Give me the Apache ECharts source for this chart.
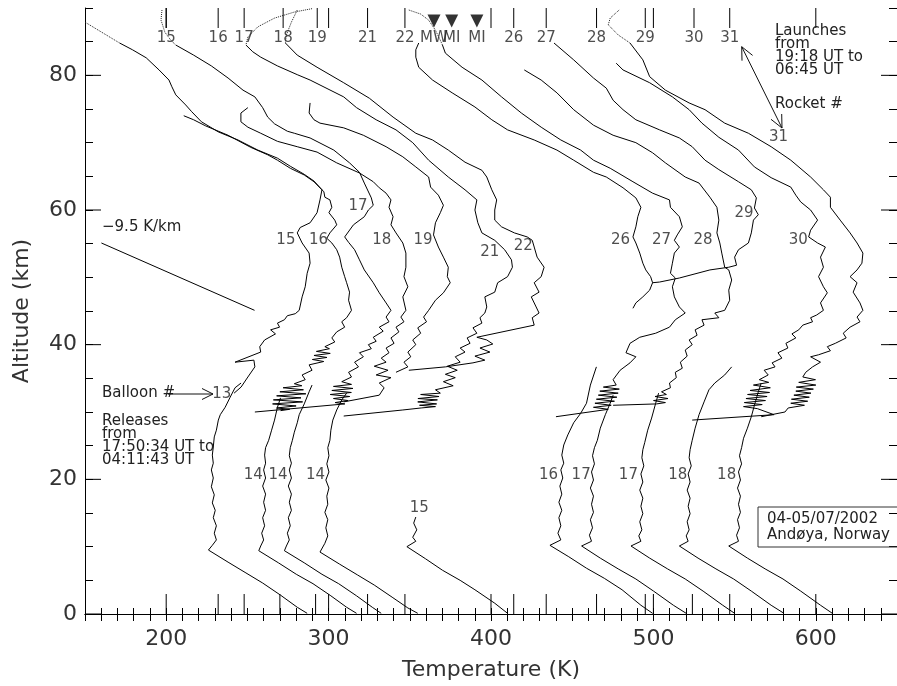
<!DOCTYPE html>
<html><head><meta charset="utf-8">
<script src="https://cdn.jsdelivr.net/npm/echarts@6/dist/echarts.min.js"></script>
<style>html,body{margin:0;padding:0;background:#fff}#c{width:897px;height:686px}</style>
</head><body><div id="c"></div>
<script>
// ---- axis / tick data ----
const xMajor = [200,300,400,500,600];
const yMajor = [0,20,40,60,80];
const rocketTicks = [200,232,248,272,293,324,347,414,434,465,495,525,547];
const rocketTickLabels = ['15','16','17','18','19','21','22','26','27','28','29','30','31'];
const balloonTicks = [232,248,270,292,324,347,414,434,465,495,524,547];
const instrumentT = [364.9,375.8,391.3];
const instrumentLabels = ['MW','MI','MI'];

// ---- rocket profiles [T(K), altitude(km)] ----
const r15 = [[210.8,74.0],[216.9,73.4],[224.2,72.5],[238.1,71.1],[252.1,69.3],[262.5,68.2],[268.5,67.4],[276.4,66.2],[285.0,65.2],[291.0,64.2],[295.9,63.0],[294.7,61.5],[292.9,59.6],[288.6,58.1],[282.5,57.4],[280.7,56.6],[283.7,55.1],[288.0,53.6],[288.6,52.1],[286.8,50.6],[285.6,48.6],[283.7,47.1],[281.9,45.1],[279.5,44.6],[274.6,44.3],[272.8,43.7],[268.5,43.2],[269.8,42.6],[264.3,42.2],[267.3,41.6],[260.6,40.7],[257.6,39.7],[258.2,38.9],[242.4,37.4],[254.0,37.7],[254.6,36.7],[250.3,35.2],[246.1,33.7],[241.8,32.8]];
const r16Dotted = [[150.0,87.9],[160.3,86.4],[171.3,84.8]];
const r16 = [[171.3,84.8],[179.2,83.8],[187.7,82.6],[195.6,80.8],[201.7,79.3],[203.5,78.3],[205.9,77.1],[212.0,75.6],[215.7,74.6],[221.7,73.1],[232.1,71.6],[244.2,70.4],[256.4,68.9],[268.5,67.7],[276.4,66.5],[285.0,65.3],[291.0,64.3],[297.1,62.7],[297.7,61.9],[300.8,61.5],[302.0,60.4],[300.2,59.6],[303.8,58.5],[305.0,57.8],[300.8,56.6],[298.9,55.8],[302.0,55.1],[305.0,54.1],[306.8,53.0],[308.1,51.5],[309.9,50.1],[311.1,49.2],[312.9,47.8],[312.3,46.6],[314.1,45.1],[311.1,44.0],[308.1,43.4],[309.9,42.6],[305.0,41.9],[302.0,41.0],[303.8,40.4],[297.7,39.7],[300.5,39.4],[292.5,39.0],[301.0,38.7],[291.0,38.4],[299.0,38.1],[290.0,37.8],[297.0,37.5],[288.0,37.0],[289.8,36.2],[283.7,35.5],[285.6,34.8],[278.9,34.2],[283.5,33.9],[272.0,33.6],[284.5,33.3],[270.0,33.0],[286.0,32.7],[268.0,32.4],[283.0,32.1],[266.0,31.8],[284.0,31.5],[265.5,31.2],[280.0,30.9],[268.0,30.6],[276.0,30.4],[270.4,30.2]];
const r17Dotted = [[197.4,89.7],[196.8,88.2],[199.2,86.4],[202.9,85.2],[205.9,84.5]];
const r17 = [[205.9,84.5],[216.9,83.0],[227.8,81.4],[238.1,79.6],[247.3,77.8],[254.6,76.8],[259.4,75.2],[262.5,73.8],[266.7,72.8],[274.6,71.7],[278.9,71.4],[288.6,70.7],[303.2,68.9],[312.9,67.0],[319.0,65.6],[322.0,64.0],[326.3,61.8],[327.5,60.7],[324.5,60.0],[322.0,59.0],[315.3,57.8],[309.9,56.0],[312.3,55.2],[316.0,54.1],[319.0,52.6],[322.0,51.1],[327.5,49.2],[331.2,47.7],[335.4,46.2],[338.4,45.1],[335.4,44.1],[337.2,43.4],[331.2,42.6],[333.6,42.0],[327.5,41.1],[329.3,40.5],[324.5,40.0],[326.3,39.4],[319.0,38.8],[321.4,38.2],[316.0,37.4],[318.4,36.7],[312.3,35.9],[314.1,35.2],[308.1,34.5],[314.1,34.1],[303.0,33.8],[315.0,33.5],[302.0,33.2],[314.0,32.9],[301.0,32.6],[313.0,32.3],[303.0,32.0],[312.0,31.7],[304.0,31.4],[310.0,31.2],[254.6,30.0]];
const r18 = [[250.3,75.2],[246.0,74.4],[246.0,73.1],[250.3,72.3],[258.2,71.4],[268.5,70.2],[280.7,69.4],[292.9,68.6],[305.0,67.0],[319.0,65.5],[327.5,64.2],[331.2,63.3],[335.4,62.5],[338.4,61.5],[337.2,60.4],[339.7,59.0],[338.4,57.8],[341.5,56.6],[345.7,55.1],[347.6,53.6],[347.6,51.5],[346.4,50.1],[348.8,48.6],[345.7,47.1],[347.6,45.1],[344.5,44.1],[346.4,43.4],[341.5,42.6],[343.3,41.9],[338.4,41.0],[340.3,40.2],[335.4,39.5],[337.2,38.8],[332.4,38.0],[335.4,37.4],[328.1,36.8],[336.6,36.2],[329.3,35.5],[338.4,35.1],[331.2,34.3],[334.2,33.6],[331.2,32.5],[309.3,31.5]];
const r19 = [[288.6,75.9],[288.0,74.4],[291.0,73.4],[294.7,72.9],[309.3,72.2],[321.4,71.1],[335.4,69.4],[345.7,67.9],[353.7,66.4],[361.6,64.9],[362.8,63.4],[367.6,62.2],[370.7,60.7],[368.8,59.6],[365.8,58.1],[364.6,56.3],[367.6,54.5],[370.7,53.0],[373.7,51.5],[373.1,50.1],[374.9,49.2],[370.7,47.7],[365.8,46.6],[361.6,45.1],[358.5,44.1],[360.3,43.4],[354.9,42.5],[356.7,41.7],[351.8,40.7],[353.7,40.0],[348.8,38.9],[350.6,38.2],[346.4,37.4],[348.8,36.7],[341.5,35.9]];
const r21Dotted = [[289.8,89.9],[278.9,89.4],[266.7,88.5],[256.4,87.2],[250.3,85.7],[249.1,84.5]];
const r21 = [[249.1,84.5],[253.3,83.5],[258.2,82.7],[268.5,81.4],[280.7,80.1],[288.6,79.3],[309.3,76.8],[317.2,75.2],[329.3,73.4],[341.5,71.9],[351.8,70.0],[361.6,67.4],[373.7,64.9],[384.0,63.0],[391.3,61.5],[390.1,60.0],[391.9,58.1],[394.4,56.6],[402.3,55.5],[408.4,54.1],[412.6,52.6],[413.2,51.5],[410.2,50.1],[404.1,49.2],[402.3,47.8],[396.2,47.1],[397.4,45.6],[396.2,44.7],[393.2,44.0],[394.4,43.2],[388.9,42.5],[391.3,41.7],[385.3,41.0],[387.1,40.2],[381.0,39.5],[384.0,38.9],[378.0,38.2],[381.0,37.4],[373.1,36.8],[379.2,36.2],[371.9,35.6],[378.0,35.1],[370.7,34.5],[376.7,33.9],[365.8,33.3],[368.8,32.8],[356.7,32.6],[368.0,32.3],[355.0,32.0],[367.0,31.8],[354.9,31.5],[366.5,31.2],[356.0,31.0],[365.8,30.8],[357.0,30.6],[345.7,30.3],[309.3,29.4]];
const r22Dotted = [[280.7,89.7],[277.1,87.9],[274.0,86.0],[273.4,84.8]];
const r22 = [[273.4,84.8],[280.7,83.0],[292.9,81.2],[309.3,78.9],[325.1,76.6],[339.7,73.8],[353.7,71.4],[364.0,70.4],[373.7,68.9],[384.0,67.1],[394.4,65.9],[397.4,64.9],[400.5,63.0],[403.5,61.5],[402.3,60.0],[402.3,58.5],[406.5,57.5],[414.4,56.6],[422.3,56.0],[425.4,55.5],[426.6,54.5],[428.4,53.0],[432.7,51.5],[430.9,50.1],[426.6,49.2],[429.6,47.8],[424.8,47.1],[427.8,45.6],[429.6,44.7],[425.4,44.0],[426.6,42.9],[391.3,41.1],[397.4,40.7],[401.1,40.1],[393.2,39.5],[399.3,38.9],[390.1,38.3],[396.2,37.7],[388.9,37.3],[371.9,36.7],[349.4,36.2]];
const r26 = [[355.5,84.8],[353.7,83.8],[353.7,82.7],[355.5,81.2],[364.0,79.3],[376.1,77.4],[390.1,75.3],[400.5,73.4],[410.2,71.9],[426.6,70.4],[440.6,68.9],[450.9,67.4],[463.1,65.6],[471.0,64.9],[481.3,63.3],[489.2,61.8],[492.3,60.4],[490.4,59.0],[489.2,57.5],[487.4,56.0],[489.2,55.1],[491.6,53.6],[493.5,52.1],[495.3,51.1],[498.3,50.1],[499.5,49.2],[497.7,48.1],[493.5,47.1],[489.2,46.2],[487.4,45.4]];
const r27Dotted = [[349.4,89.7],[356.7,89.1],[361.6,88.2],[365.8,86.7],[368.8,85.2],[370.1,84.5]];
const r27 = [[370.1,84.5],[371.9,83.3],[382.2,81.2],[394.4,79.3],[406.5,76.8],[418.7,74.4],[430.9,72.3],[443.0,70.4],[455.2,68.9],[463.1,67.4],[473.4,66.2],[487.4,64.2],[499.5,62.5],[509.9,61.5],[510.5,60.4],[516.0,59.0],[517.8,57.5],[514.7,56.3],[512.9,55.5],[516.0,54.5],[512.9,53.6],[511.7,52.1],[510.5,50.6],[513.5,49.9],[511.7,48.6],[512.9,47.1],[516.0,45.6],[519.6,44.7],[513.5,43.7],[509.9,42.6],[501.4,41.7],[491.6,41.1],[485.6,40.2],[483.1,38.8],[489.2,38.2],[485.6,37.3],[479.5,36.2],[475.2,34.8],[477.1,34.0],[469.2,33.7],[479.0,33.4],[467.0,33.1],[478.3,32.8],[466.1,32.5],[477.5,32.2],[464.9,31.9],[476.0,31.6],[464.0,31.3],[474.0,31.0],[463.1,30.7],[472.2,30.4],[440.0,29.3]];
const r28 = [[420.5,80.8],[430.9,79.3],[440.6,77.4],[450.9,74.9],[463.1,72.6],[475.2,71.1],[489.2,70.0],[499.5,68.5],[507.4,67.0],[519.6,64.9],[528.1,64.0],[534.8,61.9],[539.1,60.4],[540.3,58.5],[539.1,56.6],[540.9,55.1],[542.1,53.6],[543.9,51.5],[546.4,51.1],[548.2,49.6],[546.4,48.1],[547.0,46.6],[543.9,45.1],[537.8,44.7],[540.3,44.0],[529.9,43.7],[531.2,42.9],[525.7,42.2],[526.9,41.4],[522.0,40.7],[523.9,40.0],[519.6,39.2],[520.8,38.3],[516.6,37.4],[517.8,36.5],[513.5,35.9],[514.1,35.1],[509.9,34.3],[510.5,33.6],[505.0,33.0],[508.0,32.6],[501.0,32.3],[509.0,32.0],[500.1,31.7],[507.4,31.4],[502.0,31.2],[475.2,31.0]];
const r29 = [[438.8,84.8],[450.9,82.3],[463.1,79.6],[471.0,78.1],[475.2,76.3],[481.3,74.9],[489.2,73.4],[503.8,71.9],[516.0,70.7],[523.9,69.4],[531.8,67.4],[540.3,66.0],[552.4,64.2],[560.3,63.0],[563.4,61.8],[562.2,60.3],[564.6,59.3],[561.6,58.5],[560.3,56.6],[558.5,55.1],[552.4,54.1],[550.0,53.0],[551.2,51.8],[546.4,51.5],[534.8,51.1],[516.0,49.9],[503.8,49.3],[499.5,49.2]];
const r30 = [[477.1,81.8],[481.3,80.8],[497.7,78.9],[511.7,76.8],[522.0,74.9],[529.9,72.9],[540.3,70.8],[552.4,68.9],[562.2,66.4],[572.5,64.8],[584.6,63.4],[587.7,62.2],[590.7,61.2],[596.8,60.0],[601.1,58.5],[596.8,57.0],[595.6,56.0],[601.1,55.1],[605.9,54.5],[602.9,53.0],[604.7,51.5],[601.7,50.1],[604.7,48.6],[607.1,47.7],[602.9,46.2],[604.7,45.1],[600.5,44.4],[596.8,44.0],[598.0,43.4],[592.0,42.9],[589.5,42.2],[585.3,41.6],[587.7,41.0],[581.6,40.2],[582.8,39.5],[576.7,38.8],[579.1,38.0],[573.1,37.3],[574.9,36.7],[568.2,36.2],[570.7,35.5],[565.2,34.8],[571.0,34.4],[561.6,34.0],[572.0,33.6],[559.5,33.2],[571.5,32.9],[558.0,32.6],[570.0,32.3],[557.0,32.0],[569.0,31.7],[556.0,31.4],[567.0,31.1],[555.5,30.8],[564.0,30.5],[574.3,29.6],[523.9,28.8]];
const r31Dotted = [[478.9,89.7],[473.4,88.5],[472.2,87.5],[478.3,86.0],[485.6,84.8]];
const r31 = [[485.6,84.8],[493.5,82.3],[497.7,79.8],[507.4,77.8],[522.0,75.9],[531.8,74.9],[543.9,72.9],[558.5,71.4],[572.5,69.4],[584.6,67.4],[596.8,64.9],[604.7,63.0],[609.0,61.9],[609.0,60.4],[615.0,58.5],[621.1,56.6],[625.4,55.1],[629.0,53.6],[628.4,52.1],[625.4,51.1],[621.1,50.1],[625.4,49.2],[623.0,47.8],[627.2,46.2],[629.0,45.1],[625.4,44.1],[627.2,43.4],[621.1,42.6],[616.9,41.7],[618.7,41.0],[612.0,40.2],[607.1,39.7],[609.0,39.1],[601.7,38.5],[596.8,38.2],[602.9,37.4],[598.0,36.7],[593.8,35.9],[592.0,35.2],[599.8,34.8],[589.5,34.4],[600.0,34.0],[588.0,33.7],[598.5,33.4],[587.7,33.1],[597.0,32.8],[586.5,32.5],[596.0,32.2],[585.0,31.9],[595.0,31.6],[584.6,31.3],[593.0,31.0],[583.0,30.6],[581.0,30.0],[566.4,29.3]];

// ---- balloon profiles ----
const b13 = [[246.1,34.3],[242.4,33.6],[239.4,32.2],[236.3,30.7],[233.3,29.6],[232.1,28.8],[230.9,27.3],[229.6,26.3],[229.0,24.8],[228.4,23.6],[229.0,22.4],[227.8,21.4],[229.0,20.2],[227.8,18.9],[229.6,17.7],[228.4,16.5],[230.2,15.4],[229.0,14.3],[230.9,13.1],[229.6,12.0],[230.9,11.0],[228.4,10.2],[226.0,9.5],[238.1,7.7],[249.1,6.1],[259.4,4.6],[270.4,2.8],[280.7,1.0],[286.8,0.1]];
const b14a = [[270.4,32.1],[268.5,30.7],[266.7,28.8],[264.9,27.3],[263.1,25.8],[261.2,24.7],[260.6,23.6],[261.2,22.4],[260.0,21.4],[261.2,20.2],[259.4,19.0],[261.2,17.8],[260.0,16.6],[261.2,15.4],[259.4,14.3],[260.6,13.1],[258.8,12.0],[260.0,11.0],[258.2,10.1],[257.0,9.4],[269.1,7.6],[280.1,5.9],[290.4,4.5],[301.4,2.7],[311.1,1.0],[317.2,0.1]];
const b14b = [[289.8,34.0],[288.0,33.0],[285.0,31.2],[281.9,29.6],[280.7,28.4],[278.9,27.0],[277.7,25.8],[276.4,24.7],[275.8,23.5],[277.1,22.4],[275.8,21.4],[277.1,20.2],[275.2,19.0],[277.1,17.8],[275.8,16.6],[277.1,15.4],[275.2,14.3],[276.4,13.1],[274.6,12.0],[275.8,11.0],[274.0,10.1],[272.8,9.4],[285.0,7.6],[295.9,5.9],[306.2,4.5],[317.2,2.7],[326.9,1.0],[332.4,0.1]];
const b14c = [[311.1,32.8],[308.1,31.8],[305.0,30.3],[302.6,28.8],[301.4,27.3],[300.8,25.8],[299.5,24.7],[300.2,23.5],[298.9,22.3],[300.2,21.1],[298.3,19.9],[300.2,18.7],[298.9,17.5],[299.5,16.3],[297.7,15.1],[299.5,14.0],[298.3,12.8],[299.5,11.6],[297.7,10.5],[294.7,9.2],[306.8,7.4],[317.8,5.8],[328.1,4.3],[339.1,2.5],[348.8,0.9],[354.9,0.1]];
const b15 = [[353.7,14.4],[352.4,13.5],[354.3,12.5],[351.8,11.4],[353.7,10.8],[348.2,10.0],[359.7,8.2],[370.1,6.5],[381.0,5.0],[390.1,3.6],[402.3,1.6],[410.2,0.1]];
const b16 = [[464.9,36.7],[461.2,34.0],[458.8,31.3],[455.2,29.8],[450.9,28.4],[447.3,26.6],[444.8,25.1],[443.6,23.6],[444.8,22.4],[443.0,21.4],[444.2,20.2],[442.4,19.0],[443.6,17.8],[441.8,16.6],[443.6,15.4],[441.8,14.3],[443.0,13.1],[441.2,12.0],[443.0,11.0],[436.3,10.2],[447.9,8.5],[458.8,6.8],[469.8,5.3],[480.7,3.6],[492.3,1.3],[499.5,0.1]];
const b17a = [[475.2,32.5],[473.4,31.3],[470.4,29.6],[467.3,27.6],[465.5,25.8],[463.7,24.7],[462.5,23.5],[463.7,22.3],[461.9,21.1],[463.1,19.9],[461.2,18.7],[463.1,17.5],[461.9,16.3],[463.1,15.1],[461.2,14.0],[462.5,12.8],[460.6,11.7],[461.9,10.8],[455.8,10.1],[467.3,8.3],[478.3,6.7],[489.2,5.2],[500.1,3.4],[512.3,1.3],[520.2,0.1]];
const b17b = [[503.2,32.8],[501.4,31.3],[498.9,29.1],[496.5,27.3],[494.7,25.5],[493.5,24.4],[492.9,23.2],[494.1,22.0],[492.3,20.8],[493.5,19.6],[491.6,18.4],[493.5,17.2],[492.3,16.0],[493.5,14.9],[491.6,13.7],[492.9,12.5],[491.0,11.6],[492.3,10.8],[486.2,10.1],[497.7,8.3],[508.7,6.7],[519.6,5.2],[530.6,3.4],[542.7,1.3],[550.0,0.1]];
const b18a = [[548.2,36.7],[543.9,35.5],[537.8,34.3],[534.2,33.3],[531.2,31.5],[528.1,29.6],[525.7,27.6],[523.9,25.8],[522.6,24.4],[522.0,23.2],[523.3,22.0],[521.4,20.8],[522.6,19.6],[520.8,18.4],[522.6,17.2],[521.4,16.0],[522.6,14.9],[520.8,13.7],[522.0,12.5],[520.2,11.6],[521.4,10.8],[516.0,10.1],[527.5,8.3],[538.5,6.7],[549.4,5.2],[560.3,3.4],[572.5,1.3],[580.4,0.1]];
const b18b = [[566.4,34.3],[564.6,33.0],[562.2,31.0],[560.3,29.3],[557.9,27.6],[555.5,26.1],[554.3,24.7],[553.0,23.5],[554.3,22.3],[552.4,21.1],[553.6,19.9],[551.8,18.7],[553.6,17.5],[552.4,16.3],[553.6,15.1],[551.8,14.0],[553.0,12.8],[551.2,11.7],[552.4,10.8],[546.4,10.1],[557.9,8.3],[568.8,6.7],[579.8,5.2],[590.7,3.4],[602.9,1.3],[610.2,0.1]];

// -9.5 K/km reference slope
const lapseLine = [[160.1,55.1],[254.4,45.1]];

// ---- labels ----
const midLabelText = ['15','16','17','18','19','21','22','26','27','28','29','30','31'];
const midLabelT = [273.7,293.8,318.1,332.7,358.2,399.2,419.9,479.8,505.0,530.5,555.8,589.2,577.1];
const midLabelA = [55.6,55.6,60.6,55.6,55.6,53.7,54.7,55.6,55.6,55.6,59.6,55.6,70.8];
const balloonLabelText = ['13','14','14','14','15','16','17','17','18','18'];
const balloonLabelT = [234.2,253.6,268.8,291.9,355.8,435.4,455.5,484.6,515.0,545.1];
const balloonLabelA = [32.7,20.6,20.6,20.6,15.7,20.6,20.6,20.6,20.6,20.6];
const topLabelA = 85.6;
const triangleA = 88.07;

// ---------------------------------------------------------------
const FONT = 'DejaVu Sans';
const solidCurves = [r15,r16,r17,r18,r19,r21,r22,r26,r27,r28,r29,r30,r31,b13,b14a,b14b,b14c,b15,b16,b17a,b17b,b18a,b18b,lapseLine];
const dottedCurves = [r16Dotted,r17Dotted,r21Dotted,r22Dotted,r27Dotted,r31Dotted];

const series = [];
solidCurves.forEach(d => series.push({type:'line', data:d, showSymbol:false, symbol:'none', silent:true,
  lineStyle:{color:'#000', width:1}, z:3}));
dottedCurves.forEach(d => series.push({type:'line', data:d, showSymbol:false, symbol:'none', silent:true,
  lineStyle:{color:'#222', width:1, type:'dotted'}, z:3}));

// ticks (major/long) drawn through the axis scales
const tickData = [];
xMajor.forEach(v => { tickData.push([v,0,0]); tickData.push([v,90,1]); });
rocketTicks.forEach(v => tickData.push([v,90,1]));
balloonTicks.forEach(v => tickData.push([v,0,0]));
yMajor.forEach(v => { tickData.push([150,v,2]); tickData.push([650,v,3]); });
series.push({type:'custom', data:tickData, encode:{x:0,y:1}, clip:false, silent:true, z:6,
  renderItem:function(params, api){
    const p = api.coord([api.value(0), api.value(1)]);
    const side = api.value(2);
    let x2 = p[0], y2 = p[1];
    if (side === 0) y2 -= 20; else if (side === 1) y2 += 20; else if (side === 2) x2 += 16; else x2 -= 16;
    return {type:'line', shape:{x1:p[0], y1:p[1], x2:x2, y2:y2}, style:{stroke:'#000', lineWidth:1}};
  }});

function labelSeries(T, A, text, size){
  return {type:'scatter', symbolSize:1, silent:true, z:7,
    itemStyle:{color:'rgba(0,0,0,0)'},
    data: T.map((t,i)=>({value:[t, Array.isArray(A)?A[i]:A], name:text[i]})),
    label:{show:true, position:'inside', formatter:'{b}', fontFamily:FONT, fontSize:size, color:'#222'}};
}
series.push(labelSeries(midLabelT, midLabelA, midLabelText, 15));
series.push(labelSeries(balloonLabelT, balloonLabelA, balloonLabelText, 15));
series.push(labelSeries(rocketTicks, topLabelA, rocketTickLabels, 15));
series.push(labelSeries(instrumentT, topLabelA, instrumentLabels, 15));
series.push({type:'scatter', symbol:'triangle', symbolRotate:180, symbolSize:[13,13], silent:true, z:7,
  itemStyle:{color:'#000'}, data: instrumentT.map(t=>[t, triangleA])});

function txt(x, y, text, size, lh){
  return {type:'text', x:x, y:y, silent:true, z:10,
    style:{text:text, fill:'#222', font: size+'px "'+FONT+'"', lineHeight:lh||size,
      align:'left', verticalAlign:'top', textAlign:'left', textVerticalAlign:'top'}};
}
function pl(points){
  return {type:'polyline', silent:true, z:10, shape:{points:points}, style:{stroke:'#111', lineWidth:1, fill:null}};
}

const option = {
  animation:false,
  backgroundColor:'#fff',
  grid:{left:85, top:8, width:822.5, height:606},
  xAxis:[
    {type:'value', min:150, max:650, interval:10, position:'bottom',
     axisLine:{show:true, lineStyle:{color:'#000', width:1}},
     axisTick:{show:true, inside:true, length:6, lineStyle:{color:'#000'}},
     axisLabel:{formatter:v => (Math.round(v)%100===0 ? String(Math.round(v)) : ''), fontFamily:FONT, fontSize:22, color:'#333', margin:14, showMinLabel:false, showMaxLabel:false},
     splitLine:{show:false},
     name:'Temperature (K)', nameLocation:'middle', nameGap:45,
     nameTextStyle:{fontFamily:FONT, fontSize:22, color:'#333'}},
    {type:'value', min:150, max:650, interval:10, position:'top',
     axisLine:{show:true, lineStyle:{color:'#000', width:1}},
     axisTick:{show:true, inside:true, length:7, lineStyle:{color:'#000'}},
     axisLabel:{show:false}, splitLine:{show:false}}
  ],
  yAxis:[
    {type:'value', min:0, max:90, interval:5, position:'left',
     axisLine:{show:true, lineStyle:{color:'#000', width:1}},
     axisTick:{show:true, inside:true, length:8, lineStyle:{color:'#000'}},
     axisLabel:{formatter:v => (Math.round(v)%20===0 && v<85 ? String(Math.round(v)) : ''), fontFamily:FONT, fontSize:22, color:'#333', margin:8},
     splitLine:{show:false},
     name:'Altitude (km)', nameLocation:'middle', nameGap:52,
     nameTextStyle:{fontFamily:FONT, fontSize:22, color:'#333'}},
    {type:'value', min:0, max:90, interval:5, position:'right',
     axisLine:{show:true, lineStyle:{color:'#000', width:1}},
     axisTick:{show:true, inside:true, length:8, lineStyle:{color:'#000'}},
     axisLabel:{show:false}, splitLine:{show:false}}
  ],
  series:series,
  graphic:[
    txt(102, 220, '\u22129.5 K/km', 15),
    txt(102, 386, 'Balloon #', 15),
    pl([[168,394],[213,394]]),
    pl([[202,388.5],[213,394],[202,399.5]]),
    txt(102, 415, 'Releases\nfrom\n17:50:34 UT to\n04:11:43 UT', 15, 13),
    txt(775, 24, 'Launches\nfrom\n19:18 UT to\n06:45 UT', 15, 13.3),
    txt(775, 97, 'Rocket #', 15),
    pl([[741.7,46.7],[782,128]]),
    pl([[742,60.7],[741.7,46.7],[752.6,55.4]]),
    pl([[771,119.3],[782,128],[781.7,114]]),
    {type:'rect', silent:true, z:10, shape:{x:758, y:507, width:170, height:40}, style:{stroke:'#333', lineWidth:1, fill:null}},
    txt(767, 512, '04-05/07/2002', 15),
    txt(767, 528, 'And\u00f8ya, Norway', 15)
  ]
};
const chart = echarts.init(document.getElementById('c'), null, {renderer:'canvas'});
chart.setOption(option);
</script></body></html>
